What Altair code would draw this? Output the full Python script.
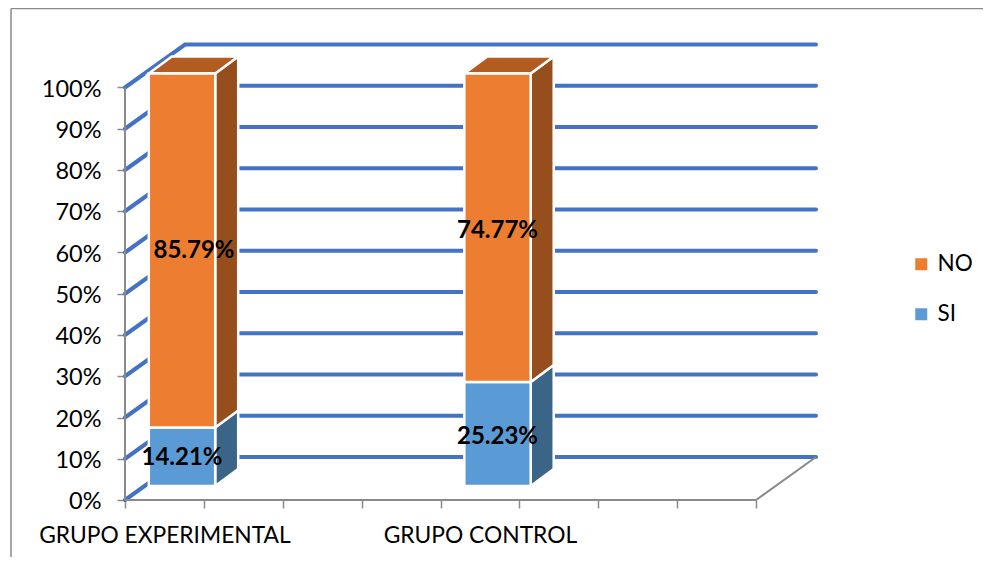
import altair as alt
import pandas as pd

categories = ["GRUPO EXPERIMENTAL", "GRUPO CONTROL"]
si_values = [14.21, 25.23]
no_values = [85.79, 74.77]
y_ticks = [0, 10, 20, 30, 40, 50, 60, 70, 80, 90, 100]
x_ticks = [0, 1, 2, 3, 4, 5, 6, 7, 8]
category_ticks = [0.5, 4.5]
bar_centres = [0.7227, 4.7227]

FONT = "Lato"
GREY = "#8a8a8a"
GRID = "#4472C4"
front_colors = {"NO": "#ED7D31", "SI": "#5B9BD5"}
side_colors = {"NO": "#964F1C", "SI": "#3A6587"}
top_color = "#B35C21"

# 3-D projection, in axis units
W, H = 691, 457
PX_X, PX_Y = 78.875, 4.125
X_MAX, Y_MAX = W / PX_X, H / PX_Y
WALL_DX, WALL_DY = 60 / PX_X, 43 / PX_Y
BAR_DX, BAR_DY = 23 / PX_X, 17 / PX_Y
BAR_HALF = 0.421
BASE = 14 / PX_Y

grid_rows = []
for v in y_ticks:
    grid_rows += [
        {"k": v, "i": 0, "x": 0, "y": v},
        {"k": v, "i": 1, "x": WALL_DX, "y": v + WALL_DY},
        {"k": v, "i": 2, "x": X_MAX, "y": v + WALL_DY},
    ]
grid = pd.DataFrame(grid_rows)

floor = pd.DataFrame([
    {"i": 0, "x": 0, "y": 0},
    {"i": 1, "x": 8, "y": 0},
    {"i": 2, "x": 8 + WALL_DX, "y": WALL_DY},
])
y_line = pd.DataFrame([{"x": 0, "y": 0, "y2": 100}])

front_rows, side_rows, top_rows, label_rows = [], [], [], []
label_dx = [[0.0, 0.152], [0.0, 0.0]]
label_dy = [[-0.2, -0.2], [-0.7, -0.7]]
for b, centre in enumerate(bar_centres):
    l, r = centre - BAR_HALF, centre + BAR_HALF
    low = BASE
    for s, (name, value) in enumerate((("SI", si_values[b]), ("NO", no_values[b]))):
        high = low + value
        front_rows.append({"serie": name, "x": l, "x2": r, "y": low, "y2": high})
        key = f"{b}{name}"
        side_rows += [
            {"k": key, "fill": side_colors[name], "x": r, "y": high, "y2": low},
            {"k": key, "fill": side_colors[name], "x": r + BAR_DX,
             "y": high + BAR_DY, "y2": low + BAR_DY},
        ]
        label_rows.append({
            "x": centre + label_dx[b][s],
            "y": (low + high) / 2 + label_dy[b][s],
            "t": f"{value:.2f}%",
        })
        low = high
    top = low
    top_rows += [
        {"k": b, "x": l, "y": top, "y2": top},
        {"k": b, "x": l + BAR_DX, "y": top + BAR_DY, "y2": top},
        {"k": b, "x": r, "y": top + BAR_DY, "y2": top},
        {"k": b, "x": r + BAR_DX, "y": top + BAR_DY, "y2": top + BAR_DY},
    ]
front, side, topf, labels = map(pd.DataFrame, (front_rows, side_rows, top_rows, label_rows))

x_scale = alt.Scale(domain=[0, X_MAX], nice=False, zero=False)
y_scale = alt.Scale(domain=[0, Y_MAX], nice=False, zero=False)

label_expr = "datum.value == %s ? '%s' : datum.value == %s ? '%s' : ''" % (
    category_ticks[0], categories[0], category_ticks[1], categories[1])

x_enc = alt.X("x:Q", scale=x_scale, title=None, axis=alt.Axis(
    values=x_ticks + category_ticks, grid=False, domain=False,
    tickColor=GREY, tickWidth=1.5, tickSize=8,
    tickOpacity=alt.expr("datum.value % 1 == 0 ? 1 : 0"),
    labelExpr=label_expr, labelFont=FONT, labelFontSize=22.8, labelColor="#000000",
    labelPadding=16, labelOverlap=False, labelBound=False, labelFlush=False, labelLimit=400,
))
y_enc = alt.Y("y:Q", scale=y_scale, title=None, axis=alt.Axis(
    values=y_ticks, grid=False, domain=False,
    tickColor=GREY, tickWidth=1.5, tickSize=8,
    labelExpr="datum.value + '%'", labelFont=FONT, labelFontSize=23.5,
    labelColor="#000000", labelPadding=16, labelOffset=1.5,
))

gridlines = alt.Chart(grid).mark_line(color=GRID, strokeWidth=4, strokeCap="round").encode(
    x=x_enc, y=y_enc, detail="k:N", order="i:Q",
)
y_axis_line = alt.Chart(y_line).mark_rule(color=GREY, strokeWidth=2).encode(
    x=x_enc, y=y_enc, y2="y2:Q"
)
floor_line = alt.Chart(floor).mark_line(color=GREY, strokeWidth=2).encode(
    x=x_enc, y=y_enc, order="i:Q"
)
sides = alt.Chart(side).mark_area(stroke="#ffffff", strokeWidth=2.5, opacity=1).encode(
    x=x_enc, y=y_enc, y2="y2:Q", detail="k:N",
    fill=alt.Fill("fill:N", scale=None),
)
tops = alt.Chart(topf).mark_area(color=top_color, stroke="#ffffff", strokeWidth=2.5, opacity=1).encode(
    x=x_enc, y=y_enc, y2="y2:Q", detail="k:N"
)
fronts = alt.Chart(front).mark_rect(stroke="#ffffff", strokeWidth=2.5).encode(
    x=x_enc, x2="x2:Q", y=y_enc, y2="y2:Q",
    color=alt.Color("serie:N", title=None,
        scale=alt.Scale(domain=["NO", "SI"], range=[front_colors["NO"], front_colors["SI"]]),
        legend=alt.Legend(
            orient="none", legendX=785, legendY=210, symbolType="square", symbolSize=144,
            symbolStrokeWidth=0, labelFont=FONT, labelFontSize=22.5, labelColor="#000000",
            labelOffset=5, rowPadding=27,
        )),
)
texts = alt.Chart(labels).mark_text(
    font=FONT, fontSize=24, fontWeight="bold", color="#000000"
).encode(x=x_enc, y=y_enc, text="t:N")

frame_left = alt.Chart(y_line).mark_rule(color=GREY, strokeWidth=1.5).encode(
    x=alt.value(-114), y=alt.value(-34.5), y2=alt.value(514)
)
frame_top = alt.Chart(y_line).mark_rule(color=GREY, strokeWidth=1.5).encode(
    x=alt.value(-114), x2=alt.value(858), y=alt.value(-34.5)
)

chart = alt.layer(
    frame_left, frame_top, gridlines, y_axis_line, floor_line, sides, tops, fronts, texts
).properties(
    width=W, height=H,
    padding={"left": 117, "top": 35, "right": 167, "bottom": 57},
    autosize=alt.AutoSizeParams(type="none"),
    background="#ffffff",
).configure_view(strokeWidth=0)

chart.save("out.html", embed_options={"renderer": "svg", "actions": False})
